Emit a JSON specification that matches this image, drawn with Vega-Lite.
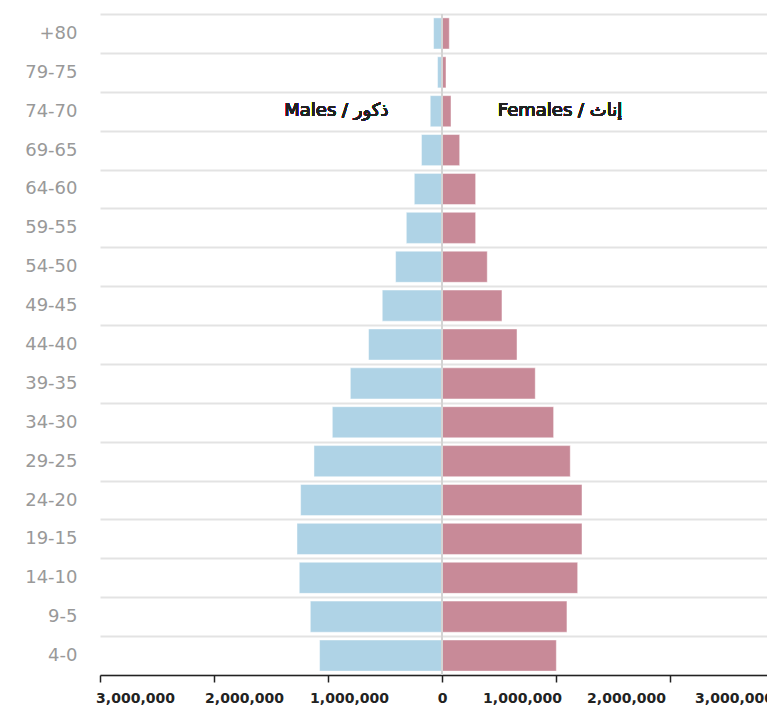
{
  "$schema": "https://vega.github.io/schema/vega-lite/v6.json",
  "width": 684,
  "height": 661,
  "autosize": {"type": "none"},
  "padding": {"left": 100, "top": 14, "right": -17, "bottom": 36},
  "background": "white",
  "config": {"view": {"stroke": null}},
  "data": {
    "values": [
      {"age": "+80", "sex": "Male", "population": -74000},
      {"age": "+80", "sex": "Female", "population": 64000},
      {"age": "79-75", "sex": "Male", "population": -39000},
      {"age": "79-75", "sex": "Female", "population": 35000},
      {"age": "74-70", "sex": "Male", "population": -103000},
      {"age": "74-70", "sex": "Female", "population": 79000},
      {"age": "69-65", "sex": "Male", "population": -180000},
      {"age": "69-65", "sex": "Female", "population": 155000},
      {"age": "64-60", "sex": "Male", "population": -243000},
      {"age": "64-60", "sex": "Female", "population": 295000},
      {"age": "59-55", "sex": "Male", "population": -313000},
      {"age": "59-55", "sex": "Female", "population": 295000},
      {"age": "54-50", "sex": "Male", "population": -407000},
      {"age": "54-50", "sex": "Female", "population": 397000},
      {"age": "49-45", "sex": "Male", "population": -524000},
      {"age": "49-45", "sex": "Female", "population": 526000},
      {"age": "44-40", "sex": "Male", "population": -644000},
      {"age": "44-40", "sex": "Female", "population": 658000},
      {"age": "39-35", "sex": "Male", "population": -804000},
      {"age": "39-35", "sex": "Female", "population": 818000},
      {"age": "34-30", "sex": "Male", "population": -962000},
      {"age": "34-30", "sex": "Female", "population": 979000},
      {"age": "29-25", "sex": "Male", "population": -1123000},
      {"age": "29-25", "sex": "Female", "population": 1125000},
      {"age": "24-20", "sex": "Male", "population": -1240000},
      {"age": "24-20", "sex": "Female", "population": 1228000},
      {"age": "19-15", "sex": "Male", "population": -1272000},
      {"age": "19-15", "sex": "Female", "population": 1228000},
      {"age": "14-10", "sex": "Male", "population": -1252000},
      {"age": "14-10", "sex": "Female", "population": 1190000},
      {"age": "9-5", "sex": "Male", "population": -1155000},
      {"age": "9-5", "sex": "Female", "population": 1096000},
      {"age": "4-0", "sex": "Male", "population": -1074000},
      {"age": "4-0", "sex": "Female", "population": 1003000}
    ]
  },
  "layer": [
    {
      "mark": {"type": "bar", "height": {"band": 0.8}, "stroke": "#ffffff", "strokeOpacity": 0.45, "strokeWidth": 1},
      "encoding": {
        "y": {
          "field": "age",
          "type": "nominal",
          "sort": ["+80", "79-75", "74-70", "69-65", "64-60", "59-55", "54-50", "49-45", "44-40", "39-35", "34-30", "29-25", "24-20", "19-15", "14-10", "9-5", "4-0"],
          "scale": {"paddingInner": 0, "paddingOuter": 0},
          "axis": {
            "title": null,
            "ticks": false,
            "domain": false,
            "labelFont": "DejaVu Sans",
            "labelFontSize": 18,
            "labelColor": "#999999",
            "labelPadding": 23,
            "grid": true,
            "gridColor": "#e3e3e3",
            "gridWidth": 2,
            "tickBand": "extent"
          }
        },
        "x": {
          "field": "population",
          "type": "quantitative",
          "scale": {"domain": [-3000000, 3000000]},
          "axis": {
            "title": null,
            "grid": false,
            "values": [-3000000, -2000000, -1000000, 0, 1000000, 2000000, 3000000],
            "labelExpr": "format(abs(datum.value), ',')",
            "domainColor": "#222222",
            "domainWidth": 1.5,
            "tickColor": "#222222",
            "tickWidth": 1.5,
            "tickSize": 7,
            "labelFont": "DejaVu Sans",
            "labelFontWeight": "bold",
            "labelFontSize": 14,
            "labelColor": "#222222",
            "labelPadding": 9,
            "labelFlush": false,
            "labelOverlap": false,
            "labelAlign": "center",
            "labelOffset": {
              "condition": [
                {"test": "datum.value == -3000000", "value": 35},
                {"test": "datum.value == -2000000", "value": 30},
                {"test": "datum.value == -1000000", "value": 21},
                {"test": "datum.value == 1000000", "value": -34},
                {"test": "datum.value == 2000000", "value": -44},
                {"test": "datum.value == 3000000", "value": -50}
              ],
              "value": 0
            }
          }
        },
        "color": {
          "field": "sex",
          "type": "nominal",
          "scale": {"domain": ["Male", "Female"], "range": ["#afd3e6", "#c88a98"]},
          "legend": null
        }
      }
    },
    {
      "mark": {"type": "rule", "color": "#d4d4d4", "strokeWidth": 2},
      "encoding": {"x": {"datum": 0}}
    },
    {
      "mark": {"type": "text", "align": "right", "baseline": "middle", "font": "DejaVu Sans", "fontWeight": "normal", "fontSize": 18, "color": "#222222"},
      "encoding": {
        "x": {"datum": -470000},
        "y": {"datum": "74-70"},
        "text": {"value": "Males / ذكور"}
      }
    },
    {
      "mark": {"type": "text", "align": "left", "baseline": "middle", "font": "DejaVu Sans", "fontWeight": "normal", "fontSize": 18, "color": "#222222"},
      "encoding": {
        "x": {"datum": 490000},
        "y": {"datum": "74-70"},
        "text": {"value": "Females / إناث"}
      }
    }
  ]
}
